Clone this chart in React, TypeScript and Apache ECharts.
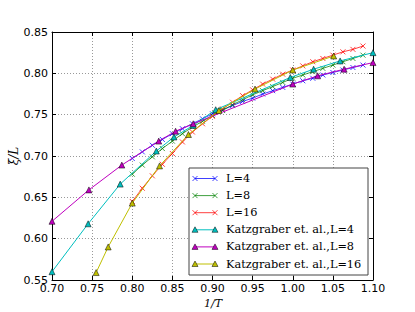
import React, { useEffect, useRef } from "react";
import * as echarts from "echarts";

const simX = [0.8, 0.8125, 0.825, 0.8375, 0.85, 0.8625, 0.875, 0.8875, 0.9, 0.9125, 0.925, 0.9375, 0.95, 0.9625, 0.975, 0.9875, 1.0, 1.0125, 1.025, 1.0375, 1.05, 1.0625, 1.075, 1.0875];
const simL4 = [0.697, 0.705, 0.713, 0.72, 0.727, 0.733, 0.739, 0.745, 0.751, 0.756, 0.761, 0.766, 0.77, 0.775, 0.779, 0.783, 0.787, 0.791, 0.794, 0.798, 0.801, 0.804, 0.807, 0.81];
const simL8 = [0.678, 0.689, 0.699, 0.709, 0.718, 0.727, 0.735, 0.742, 0.749, 0.755, 0.762, 0.768, 0.774, 0.779, 0.784, 0.789, 0.794, 0.798, 0.802, 0.806, 0.81, 0.814, 0.818, 0.822];
const simL16 = [0.645, 0.661, 0.676, 0.69, 0.703, 0.717, 0.729, 0.739, 0.748, 0.757, 0.765, 0.773, 0.78, 0.787, 0.793, 0.799, 0.804, 0.809, 0.814, 0.818, 0.822, 0.826, 0.829, 0.833];

const katzL4X = [0.7, 0.745, 0.785, 0.83, 0.852, 0.876, 0.904, 0.997, 1.026, 1.059, 1.1];
const katzL4Y = [0.56, 0.618, 0.666, 0.706, 0.723, 0.737, 0.756, 0.795, 0.805, 0.815, 0.825];
const katzL8X = [0.7, 0.746, 0.787, 0.833, 0.854, 0.876, 1.0, 1.031, 1.064, 1.1];
const katzL8Y = [0.621, 0.659, 0.689, 0.718, 0.73, 0.739, 0.787, 0.797, 0.805, 0.813];
const katzL16X = [0.755, 0.77, 0.8, 0.834, 0.87, 0.908, 0.953, 1.0, 1.051];
const katzL16Y = [0.559, 0.59, 0.643, 0.688, 0.726, 0.755, 0.781, 0.804, 0.821];

const seriesNames = ["L=4", "L=8", "L=16", "Katzgraber et. al.,L=4", "Katzgraber et. al.,L=8", "Katzgraber et. al.,L=16"];
const seriesColors = ["#0000ff", "#008000", "#ff0000", "#00bfbf", "#bf00bf", "#bfbf00"];

const xAxisName = "1/T";
const yAxisName = "ξ/L";

const X_PATH = "path://M0,0L10,10M10,0L0,10";

function zip(xs: number[], ys: number[]) {
  return xs.map((x, i) => [x, ys[i]]);
}

export default function App() {
  const ref = useRef<HTMLDivElement>(null);
  useEffect(() => {
    if (!ref.current) return;
    const chart = echarts.init(ref.current, null, { renderer: "svg" });
    const simData = [simL4, simL8, simL16];
    const katz = [
      [katzL4X, katzL4Y],
      [katzL8X, katzL8Y],
      [katzL16X, katzL16Y],
    ];
    const series: any[] = [];
    simData.forEach((ys, i) => {
      series.push({
        name: seriesNames[i],
        type: "line",
        data: zip(simX, ys),
        symbol: X_PATH,
        symbolSize: 5,
        showAllSymbol: true,
        lineStyle: { color: seriesColors[i], width: 1, opacity: 0.75 },
        itemStyle: { color: "transparent", borderColor: seriesColors[i], borderWidth: 1, opacity: 0.75 },
        emphasis: { disabled: true },
        z: 2,
      });
    });
    katz.forEach(([xs, ys], i) => {
      series.push({
        name: seriesNames[3 + i],
        type: "line",
        data: zip(xs, ys),
        symbol: "triangle",
        symbolSize: 6,
        showAllSymbol: true,
        lineStyle: { color: seriesColors[3 + i], width: 1 },
        itemStyle: { color: seriesColors[3 + i], borderColor: "#000", borderWidth: 0.5 },
        emphasis: { disabled: true },
        z: 3,
      });
    });

    const gridLine = { show: true, lineStyle: { color: "#999", type: [1, 2], width: 1 } };
    const axisLine = { show: true, onZero: false, lineStyle: { color: "#000", width: 1 } };
    const tick = { show: true, inside: true, length: 4, lineStyle: { color: "#000" } };
    const labelFont = { fontFamily: "DejaVu Sans", fontSize: 11, color: "#000" };

    const legendX = 189, legendY = 168, legendW = 179, legendH = 107;
    const rowY0 = 178.5, rowStep = 17.1;
    const els: any[] = [
      {
        type: "rect",
        shape: { x: legendX, y: legendY, width: legendW, height: legendH },
        style: { fill: "#fff", stroke: "#444", lineWidth: 1 },
        z: 100,
      },
    ];
    seriesNames.forEach((name, i) => {
      const y = rowY0 + i * rowStep;
      const c = seriesColors[i];
      els.push({
        type: "line",
        shape: { x1: 195, y1: y, x2: 215, y2: y },
        style: { stroke: c, lineWidth: 1, opacity: i < 3 ? 0.75 : 1 },
        z: 101,
      });
      [195, 215].forEach((mx) => {
        if (i < 3) {
          els.push({
            type: "polyline",
            shape: { points: [[mx - 2.5, y - 2.5], [mx + 2.5, y + 2.5]] },
            style: { stroke: c, lineWidth: 1, fill: "none", opacity: 0.75 },
            z: 102,
          });
          els.push({
            type: "polyline",
            shape: { points: [[mx + 2.5, y - 2.5], [mx - 2.5, y + 2.5]] },
            style: { stroke: c, lineWidth: 1, fill: "none", opacity: 0.75 },
            z: 102,
          });
        } else {
          els.push({
            type: "polygon",
            shape: { points: [[mx, y - 3], [mx + 3, y + 2.5], [mx - 3, y + 2.5]] },
            style: { fill: c, stroke: "#000", lineWidth: 0.5 },
            z: 102,
          });
        }
      });
      els.push({
        type: "text",
        x: 226,
        y: y,
        style: {
          text: name,
          fontFamily: "DejaVu Serif",
          fontSize: 11.3,
          fill: "#000",
          verticalAlign: "middle",
          align: "left",
        },
        z: 102,
      });
    });
    els.push({
      type: "text",
      x: 14,
      y: 156,
      rotation: Math.PI / 2,
      style: {
        text: yAxisName,
        fontFamily: "DejaVu Serif",
        fontStyle: "italic",
        fontSize: 12,
        fill: "#000",
        align: "center",
        verticalAlign: "middle",
      },
    });
    els.push({
      type: "text",
      x: 213,
      y: 303,
      style: {
        text: xAxisName,
        fontFamily: "DejaVu Serif",
        fontStyle: "italic",
        fontSize: 11,
        fill: "#000",
        align: "center",
        verticalAlign: "middle",
      },
    });

    chart.setOption({
      animation: false,
      backgroundColor: "#fff",
      grid: { left: 52, right: 42, top: 32, bottom: 32, containLabel: false },
      xAxis: [
        {
          type: "value",
          min: 0.7,
          max: 1.1,
          interval: 0.05,
          axisLine,
          axisTick: tick,
          splitLine: gridLine,
          axisLabel: { ...labelFont, margin: 3, formatter: (v: number) => v.toFixed(2) },
        },
        {
          type: "value",
          position: "top",
          min: 0.7,
          max: 1.1,
          interval: 0.05,
          axisLine,
          axisTick: tick,
          splitLine: { show: false },
          axisLabel: { show: false },
        },
      ],
      yAxis: [
        {
          type: "value",
          min: 0.55,
          max: 0.85,
          interval: 0.05,
          axisLine,
          axisTick: tick,
          splitLine: gridLine,
          axisLabel: { ...labelFont, margin: 4, formatter: (v: number) => v.toFixed(2) },
        },
        {
          type: "value",
          position: "right",
          min: 0.55,
          max: 0.85,
          interval: 0.05,
          axisLine,
          axisTick: tick,
          splitLine: { show: false },
          axisLabel: { show: false },
        },
      ],
      series,
      graphic: els,
    });
    return () => chart.dispose();
  }, []);
  return (
    <div
      ref={ref}
      style={{ position: "fixed", left: 0, top: 0, width: 415, height: 312, background: "#fff" }}
    />
  );
}
